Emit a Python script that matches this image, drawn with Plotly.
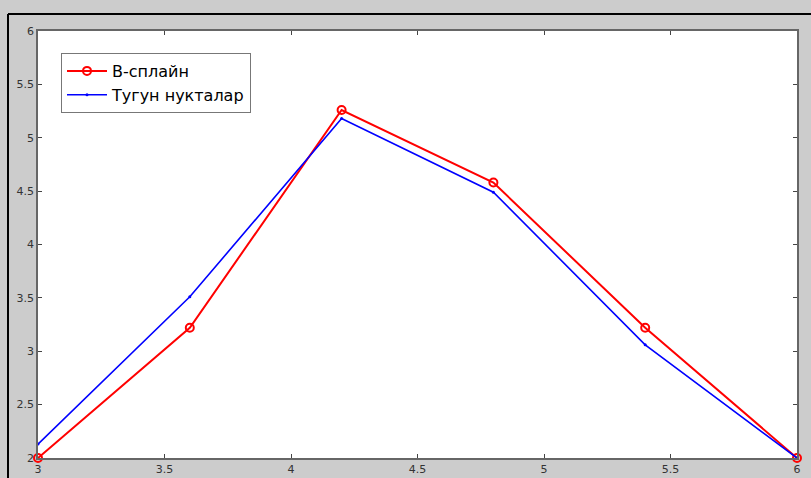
import plotly.graph_objects as go

x_vals = [3, 3.6, 4.2, 4.8, 5.4, 6]
bspline = [2.0, 3.22, 5.26, 4.58, 3.22, 2.0]
nodes = [2.13, 3.51, 5.18, 4.49, 3.06, 2.0]
x_ticks = [3, 3.5, 4, 4.5, 5, 5.5, 6]
y_ticks = [2, 2.5, 3, 3.5, 4, 4.5, 5, 5.5, 6]

fig = go.Figure()
fig.add_trace(go.Scatter(x=x_vals, y=bspline, mode="lines+markers", name="B-сплайн",
                         line=dict(color="#ff0000", width=2),
                         marker=dict(symbol="circle-open", size=8, color="#ff0000", line=dict(width=2)),
                         cliponaxis=False))
fig.add_trace(go.Scatter(x=x_vals, y=nodes, mode="lines+markers", name="Тугун нукталар",
                         line=dict(color="#0000ff", width=1.6),
                         marker=dict(symbol="circle", size=3, color="#0000ff"),
                         cliponaxis=False))

W, H = 811, 478
L, R, T, B = 38, 14, 31, 20
pw, ph = W - L - R, H - T - B
def px(xp):
    return (xp - L) / pw
def py(yp):
    return 1 - (yp - T) / ph

axis_common = dict(showgrid=False, zeroline=False, showline=True, linecolor="#666666", linewidth=1.5,
                   mirror="ticks", ticks="inside", ticklen=4, tickcolor="#444444",
                   tickfont=dict(family="DejaVu Sans", size=11, color="#333333"),
                   automargin=False)

fig.update_layout(
    width=W, height=H,
    margin=dict(l=L, r=R, t=T, b=B, pad=0),
    paper_bgcolor="#cccccc", plot_bgcolor="white",
    xaxis=dict(range=[3, 6], tickvals=x_ticks, ticktext=[str(v) for v in x_ticks], **axis_common),
    yaxis=dict(range=[2, 6], tickvals=y_ticks, ticktext=[str(v) for v in y_ticks], **axis_common),
    legend=dict(x=px(61), y=py(53), xanchor="left", yanchor="top", bgcolor="white",
                bordercolor="#777777", borderwidth=1,
                font=dict(family="DejaVu Sans", size=16, color="black"),
                tracegroupgap=0, itemwidth=40),
    showlegend=True,
    shapes=[
        dict(type="line", xref="paper", yref="paper", x0=px(8), x1=px(W + 5), y0=py(14), y1=py(14),
             line=dict(color="black", width=2)),
        dict(type="line", xref="paper", yref="paper", x0=px(8), x1=px(8), y0=py(14), y1=py(H + 5),
             line=dict(color="black", width=2)),
    ],
)

fig.write_html("out.html", config={"displayModeBar": False},
               post_script="document.body.style.margin='0';document.body.style.padding='0';")
